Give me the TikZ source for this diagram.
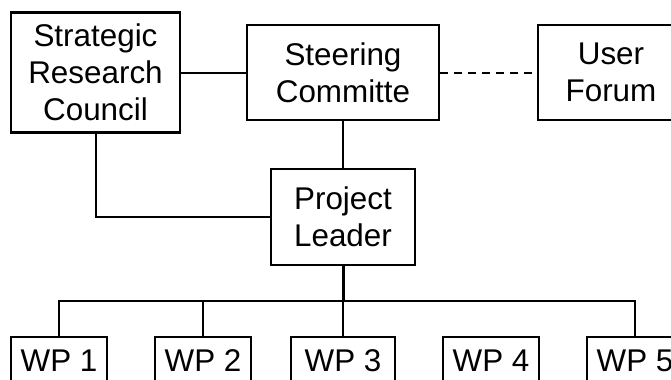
\documentclass[tikz,border=0pt]{standalone}
\usepackage{fontspec}
\setmainfont{Liberation Sans}
\usetikzlibrary{positioning,calc}

\begin{document}
\begin{tikzpicture}[x=0.5pt,y=-0.5pt,
box/.style={draw,line width=1.1pt,inner sep=0pt,align=center,font=\fontsize{15.7}{18.5}\selectfont},
wp/.style={box,minimum width=48pt,minimum height=24pt},
link/.style={line width=1pt}]
\clip (0,0) rectangle (671,380);
\node[box,minimum width=84.5pt,minimum height=60pt] (src) at (95.5,72.5) {Strategic\\Research\\Council};
\node[box,minimum width=96pt,minimum height=47.5pt] (sc) at (343,72.5) {Steering\\Committe};
\node[box,minimum width=73pt,minimum height=47.5pt] (uf) at (611,72.5) {User\\Forum};
\node[box,minimum width=72pt,minimum height=48pt] (pl) at (343,217) {Project\\Leader};
\node[wp] (wp1) at (59,361) {WP 1};
\node[wp] (wp2) at (203,361) {WP 2};
\node[wp,minimum width=52pt] (wp3) at (343,361) {WP 3};
\node[wp] (wp4) at (491,361) {WP 4};
\node[wp] (wp5) at (635,361) {WP 5};
\coordinate (bus) at (343,301);
\draw[link] (src) -- (sc);
\draw[link,dash pattern=on 4pt off 3pt] (sc) -- (uf);
\draw[link] (sc) -- (pl);
\draw[link] (src) |- (pl);
\draw[line width=1.5pt] (pl) -- (bus);
\draw[link] (wp1) |- (bus) -| (wp5);
\draw[link] (wp2) -- (wp2 |- bus);
\draw[link] (wp3) -- (bus);
\end{tikzpicture}
\end{document}
